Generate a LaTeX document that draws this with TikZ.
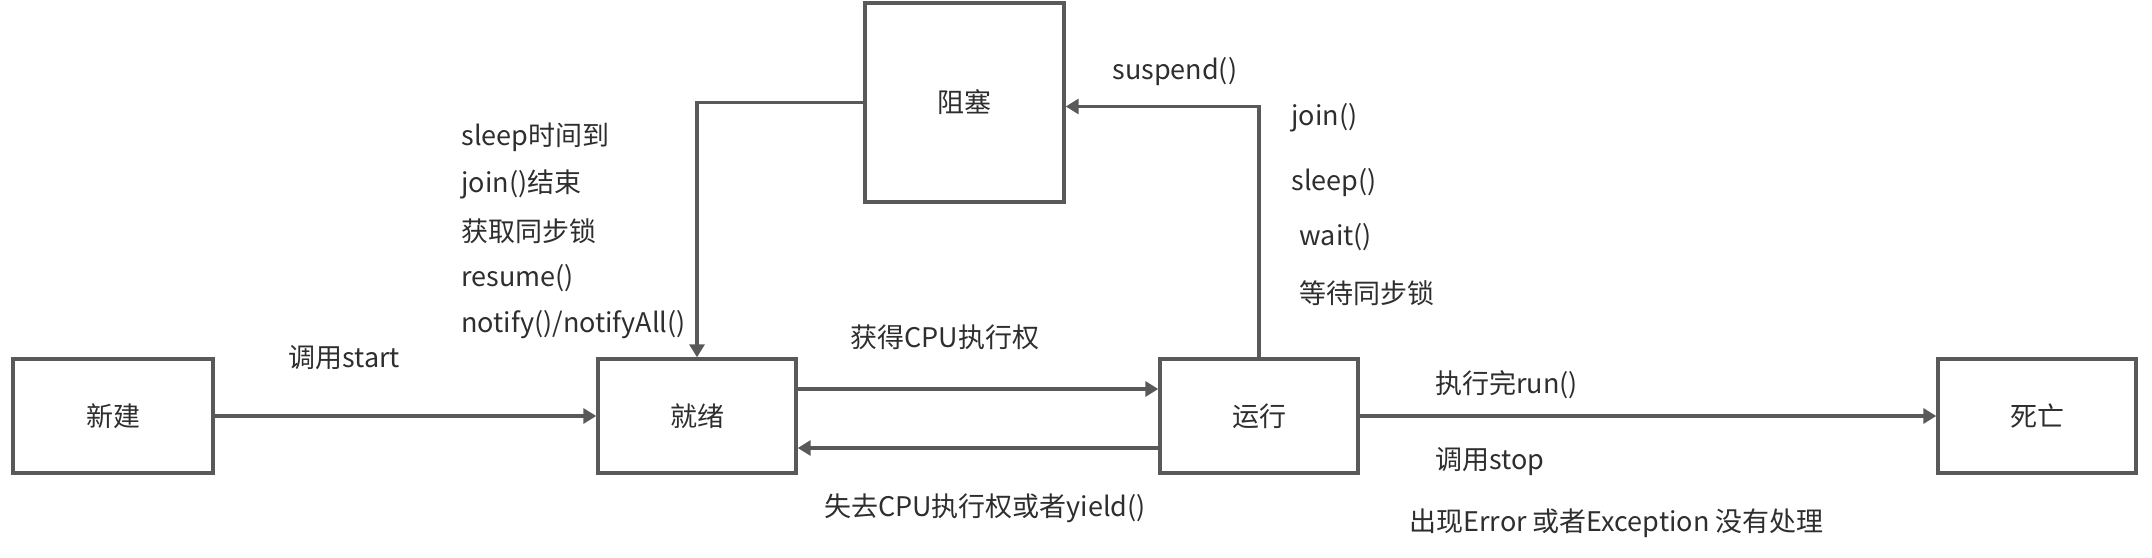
\documentclass[tikz,border=0pt]{standalone}
\usepackage{fontspec}
\setmainfont{Noto Sans CJK SC}
\usetikzlibrary{arrows.meta}
\definecolor{edgegray}{HTML}{595959}
\definecolor{txtgray}{HTML}{2E2E2E}
\tikzset{
  statebox/.style={draw=edgegray,line width=1.7pt,anchor=center,minimum height=57pt},
  arr/.style={draw=edgegray,line width=1.7pt,-{Triangle[length=6.5pt,width=7.5pt]}}
}
\begin{document}
\begin{tikzpicture}[x=.5pt,y=-.5pt,every node/.style={font=\fontsize{13.5}{16}\selectfont,text=txtgray,anchor=west,inner sep=0pt}]
\useasboundingbox (0,0) rectangle (2152,557);
% states
\node[statebox,minimum width=100pt] (xinjian) at (113,416) {新建};
\node[statebox,minimum width=99pt] (jiuxu) at (697,416) {就绪};
\node[statebox,minimum width=99pt] (yunxing) at (1259,416) {运行};
\node[statebox,minimum width=99pt] (siwang) at (2037,416) {死亡};
\node[statebox,minimum width=99.5pt,minimum height=99.5pt] (zusai) at (964.5,102.5) {阻塞};
% transitions
\draw[arr] (xinjian) -- (jiuxu);
\draw[arr] ([yshift=13.5pt]jiuxu.east) -- ([yshift=13.5pt]yunxing.west);
\draw[arr] ([yshift=-16pt]yunxing.west) -- ([yshift=-16pt]jiuxu.east);
\draw[arr] (yunxing) -- (siwang);
\draw[arr] (zusai.west) -| (jiuxu.north);
\draw[arr] (yunxing.north) |- ([yshift=-2pt]zusai.east);
% labels
\node (lstart) at (288,358) {调用start};
\foreach \t [count=\i] in {sleep时间到,join()结束,获取同步锁,resume(),notify()/notifyAll()}
  \node (lwake\i) at (461,{137+47*(\i-1)}) {\t};
\node (lsusp) at (1112,72) {suspend()};
\node (ljoin) at (1291,118) {join()};
\node (lsleep) at (1291,183) {sleep()};
\node (lwait) at (1299,237) {wait()};
\node (llock) at (1299,293) {等待同步锁};
\node[anchor=center] (lget) at (945,337) {获得CPU执行权};
\node[anchor=center] (llose) at (985,508) {失去CPU执行权或者yield()};
\node (lrun) at (1435,385) {执行完run()};
\node (lstop) at (1435,462) {调用stop};
\node (lerr) at (1409,523) {出现Error 或者Exception 没有处理};
\end{tikzpicture}
\end{document}
